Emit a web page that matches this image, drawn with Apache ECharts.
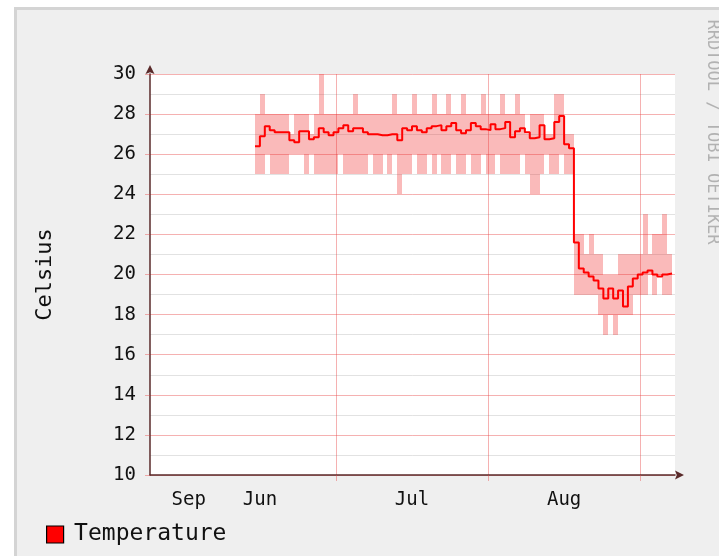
<!DOCTYPE html>
<html>
<head>
<meta charset="utf-8">
<script src="https://cdn.jsdelivr.net/npm/echarts@6/dist/echarts.min.js"></script>
<style>
html,body{margin:0;padding:0;background:#ffffff;}
#c{width:719px;height:556px;}
</style>
</head>
<body>
<div id="c"></div>
<script>
// ---- data (days relative to Jul 1; one sample per day) ----
const startDay = -16.5;
const avgTemp = [
  26.4, 26.9, 27.4, 27.2, 27.1, 27.1, 27.1, 26.7, 26.6, 27.15,
  27.15, 26.75, 26.85, 27.3, 27.1, 26.95, 27.1, 27.3, 27.45, 27.15,
  27.3, 27.3, 27.1, 27.0, 27.0, 26.95, 26.95, 27.0, 27.0, 26.7,
  27.3, 27.2, 27.4, 27.2, 27.1, 27.3, 27.4, 27.45, 27.2, 27.4,
  27.55, 27.2, 27.05, 27.2, 27.55, 27.4, 27.25, 27.2, 27.5, 27.25,
  27.3, 27.6, 26.85, 27.15, 27.3, 27.1, 26.8, 26.85, 27.45, 26.75,
  26.8, 27.6, 27.9, 26.5, 26.3, 21.6, 20.3, 20.1, 19.9, 19.7,
  19.3, 18.8, 19.3, 18.8, 19.2, 18.4, 19.4, 19.8, 20.0, 20.1,
  20.2, 20.0, 19.9, 20.0, 20.05
];
const maxTemp = [
  28, 29, 28, 28, 28, 28, 28, 27, 28, 28,
  28, 27, 28, 30, 28, 28, 28, 28, 28, 28,
  29, 28, 28, 28, 28, 28, 28, 28, 29, 28,
  28, 28, 29, 28, 28, 28, 29, 28, 28, 29,
  28, 28, 29, 28, 28, 28, 29, 28, 28, 28,
  29, 28, 28, 29, 28, 27, 28, 28, 28, 27,
  27, 29, 29, 27, 27, 22, 22, 21, 22, 21,
  21, 20, 20, 20, 21, 21, 21, 21, 21, 23,
  21, 22, 22, 23, 21
];
const minTemp = [
  25, 25, 26, 25, 25, 25, 25, 26, 26, 26,
  25, 26, 25, 25, 25, 25, 25, 26, 25, 25,
  25, 25, 25, 26, 25, 25, 26, 25, 26, 24,
  25, 25, 26, 25, 25, 26, 25, 26, 25, 25,
  26, 25, 25, 26, 25, 25, 26, 25, 25, 26,
  25, 25, 25, 25, 26, 25, 24, 24, 25, 26,
  25, 25, 26, 25, 25, 19, 19, 19, 19, 19,
  18, 17, 18, 17, 18, 18, 18, 19, 19, 19,
  20, 19, 20, 19, 19
];
const monthStarts = [0, 31, 62];
const monthLabels = ['Sep', 'Jun', 'Jul', 'Aug'];
const monthLabelDays = [-30, -15.5, 15.5, 46.5];
const xMin = -37.9, xMax = 69.1;
const yMin = 10, yMax = 30, yStep = 2;

// ---- build ----
function pts(arr) {
  const p = arr.map((v, i) => [startDay + i, v]);
  p.push([startDay + arr.length, arr[arr.length - 1]]);
  return p;
}
const bandData = minTemp.map((v, i) => [startDay + i, v, maxTemp[i]]);
const FONT = '"DejaVu Sans Mono", monospace';
const majorGrid = 'rgba(230,70,70,0.42)';
const axisColor = '#5a2a2a';
const bandColor = 'rgba(238,40,40,0.32)';
// arrow head occupying the outer half of its box, so it sits beyond the axis end
const arrowPath = 'path://M5,0L10,10L5,8L0,10Z M5,20L5.001,20';

const chart = echarts.init(document.getElementById('c'), null, {renderer: 'canvas'});
chart.setOption({
  animation: false,
  backgroundColor: '#ffffff',
  graphic: [
    {type: 'rect', z: -100, silent: true,
     shape: {x: 15.5, y: 8.5, width: 720, height: 560},
     style: {fill: '#efefef', stroke: '#d4d4d4', lineWidth: 3}},
    {type: 'text', z: 10, silent: true, x: 712, y: 132, rotation: -Math.PI / 2,
     style: {text: 'RRDTOOL / TOBI OETIKER', font: '17px "DejaVu Sans Mono"', fill: '#b2b2b2',
             align: 'center', verticalAlign: 'middle'}}
  ],
  grid: {left: 150, right: 44, top: 74, bottom: 81, show: true, backgroundColor: '#ffffff', borderWidth: 0},
  legend: {
    data: [{name: 'Temperature'}],
    icon: 'path://M0,0L10,0L10,10L0,10Z',
    left: 41, top: 518, itemWidth: 28, itemHeight: 17, symbolKeepAspect: true,
    itemStyle: {borderColor: '#000', borderWidth: 1.2},
    textStyle: {fontFamily: FONT, fontSize: 23, color: '#111'}
  },
  xAxis: {
    type: 'value', min: xMin, max: xMax,
    axisLine: {show: true, onZero: false, lineStyle: {color: axisColor, width: 1.5},
               symbol: ['none', arrowPath], symbolSize: [9, 26]},
    axisTick: {show: true, customValues: monthStarts, length: 6, lineStyle: {color: majorGrid}},
    splitLine: {show: true, lineStyle: {color: majorGrid}},
    axisLabel: {
      customValues: monthLabelDays,
      formatter: function (v) {
        let best = 0, bd = Infinity;
        monthLabelDays.forEach((d, i) => { if (Math.abs(d - v) < bd) { bd = Math.abs(d - v); best = i; } });
        return monthLabels[best];
      },
      fontFamily: FONT, fontSize: 19, color: '#111', margin: 16
    }
  },
  yAxis: {
    type: 'value', min: yMin, max: yMax, interval: yStep,
    name: 'Celsius', nameLocation: 'middle', nameGap: 94,
    nameTextStyle: {fontFamily: FONT, fontSize: 22, color: '#111'},
    axisLine: {show: true, onZero: false, lineStyle: {color: axisColor, width: 1.5},
               symbol: ['none', arrowPath], symbolSize: [9, 26]},
    axisTick: {show: true, length: 5, lineStyle: {color: majorGrid}},
    axisLabel: {fontFamily: FONT, fontSize: 19, color: '#111', margin: 14},
    splitLine: {show: true, lineStyle: {color: majorGrid}},
    minorTick: {show: false, splitNumber: 2},
    minorSplitLine: {show: true, lineStyle: {color: 'rgba(190,190,190,0.45)'}}
  },
  series: [
    {name: 'range', type: 'custom', silent: true, z: 2, data: bandData,
     encode: {x: 0, y: [1, 2]},
     renderItem: function (params, api) {
       const d = api.value(0), lo = api.value(1), hi = api.value(2);
       const pTop = api.coord([d, hi]);
       const pBot = api.coord([d + 1, lo]);
       const x0 = Math.round(pTop[0]), x1 = Math.round(pBot[0]);
       const y0 = Math.round(pTop[1]), y1 = Math.round(pBot[1]);
       return {type: 'rect', shape: {x: x0, y: y0, width: x1 - x0, height: y1 - y0},
               style: {fill: bandColor}};
     }},
    {name: 'Temperature', type: 'line', step: 'end', data: pts(avgTemp),
     symbol: 'none', lineStyle: {color: '#ff0000', width: 2}, itemStyle: {color: '#ff0000'}, z: 3}
  ]
});
</script>
</body>
</html>
